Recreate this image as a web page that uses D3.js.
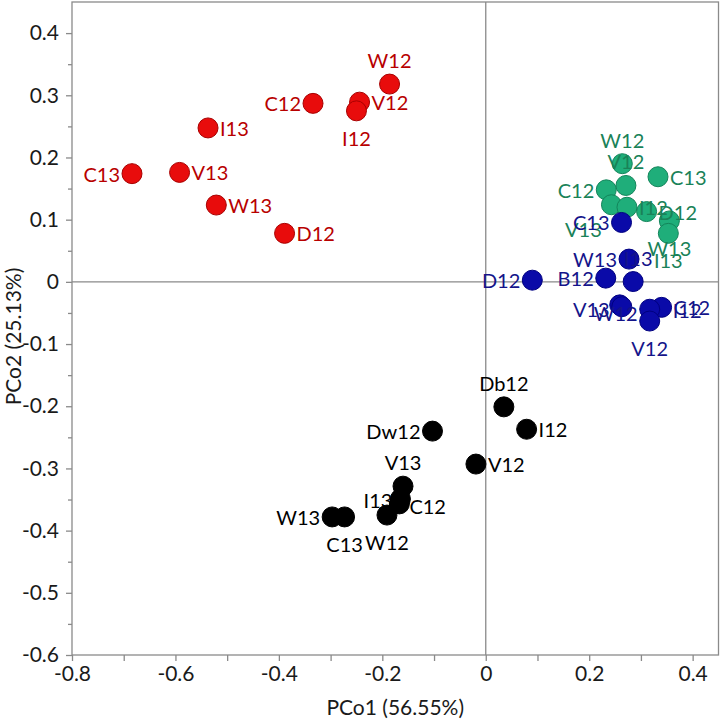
<!DOCTYPE html>
<html><head><meta charset="utf-8">
<script src="https://cdn.jsdelivr.net/npm/d3@7"></script>
<style>body{margin:0;background:#fff}svg{display:block}</style>
</head><body>
<svg id="chart" width="721" height="725"></svg>
<script>
// ---- data ----
const redNames  = ["W12","C12","V12","I12","I13","C13","V13","W13","D12"];
const redX      = [-0.186,-0.334,-0.244,-0.250,-0.537,-0.684,-0.592,-0.521,-0.389];
const redY      = [0.318,0.287,0.289,0.275,0.2475,0.174,0.176,0.1235,0.078];

const greenNames = ["W12","V12","C13","C12","V13","I12","D12","W13","I13"];
const greenX     = [0.264,0.271,0.333,0.233,0.243,0.273,0.311,0.355,0.353];
const greenY     = [0.190,0.155,0.169,0.148,0.124,0.120,0.113,0.098,0.078];

const blueNames = ["C13","W13","I13","D12","B12","V13","W12","C12","I12","V12"];
const blueX     = [0.2625,0.277,0.285,0.090,0.232,0.259,0.263,0.340,0.317,0.317];
const blueY     = [0.0955,0.0366,0.0005,0.0027,0.006,-0.037,-0.040,-0.041,-0.044,-0.063];

const blackNames = ["Db12","I12","Dw12","V12","V13","I13","C12","W12","W13","C13"];
const blackX     = [0.035,0.079,-0.103,-0.019,-0.160,-0.165,-0.167,-0.191,-0.297,-0.273];
const blackY     = [-0.201,-0.237,-0.240,-0.293,-0.3285,-0.349,-0.357,-0.375,-0.378,-0.378];

const xTickValues = [-0.8,-0.6,-0.4,-0.2,0,0.2,0.4];
const yTickValues = [0.4,0.3,0.2,0.1,0,-0.1,-0.2,-0.3,-0.4,-0.5,-0.6];
const xTitle = "PCo1 (56.55%)";
const yTitle = "PCo2 (25.13%)";

// ---- layout (label placement, not data) ----
const redPlace   = ["above","left","right","below","right","left","right","right","right"];
const greenPlace = ["above","above","right","left",{dx:-28,dy:24,a:"middle"},"right","right","below","below"];
const bluePlace  = ["left","left",{dx:5,dy:-24,a:"middle"},"left","left",{dx:-10,dy:4,a:"end"},{dx:-6,dy:6,a:"middle"},{dx:12,dy:0,a:"start"},{dx:23,dy:1,a:"start"},"below"];
const blackPlace = ["above","right","left","right","above",{dx:-8,dy:1,a:"end"},{dx:10,dy:2,a:"start"},"below","left","below"];

const groups = [
  {names:redNames,   xs:redX,   ys:redY,   place:redPlace,   fill:"#e80c0c", stroke:"#a80000", text:"#b80000"},
  {names:greenNames, xs:greenX, ys:greenY, place:greenPlace, fill:"#1fae7a", stroke:"#13845a", text:"#1a8258"},
  {names:blueNames,  xs:blueX,  ys:blueY,  place:bluePlace,  fill:"#0a0aa8", stroke:"#000080", text:"#14148a"},
  {names:blackNames, xs:blackX, ys:blackY, place:blackPlace, fill:"#000000", stroke:"#000000", text:"#000000"}
];

const svg = d3.select("#chart");
const L = 72, R = 718.5, T = 2, B = 655;
const x = d3.scaleLinear().domain([-0.8, 0.45]).range([L, R]);
const y = d3.scaleLinear().domain([-0.6, 0.45]).range([B, T]);
const FONT = "Lato, 'Open Sans', sans-serif";
const axisCol = "#8a8a8a";

// frame
svg.append("rect").attr("x",L).attr("y",T).attr("width",R-L).attr("height",B-T)
  .attr("fill","none").attr("stroke",axisCol).attr("stroke-width",1.3);
// zero lines
svg.append("line").attr("x1",x(0)).attr("x2",x(0)).attr("y1",T).attr("y2",B)
  .attr("stroke",axisCol).attr("stroke-width",1.3);
svg.append("line").attr("x1",L).attr("x2",R).attr("y1",y(0)).attr("y2",y(0))
  .attr("stroke",axisCol).attr("stroke-width",1.3);

// x axis
const xMinor = d3.range(-8, 5).map(d => d/10);
const xAx = svg.append("g").attr("transform",`translate(0,${B})`)
  .call(d3.axisBottom(x).tickValues(xMinor).tickSize(6)
    .tickFormat(d => xTickValues.some(v => Math.abs(v-d)<1e-9) ? String(+d.toFixed(1)) : ""));
xAx.select(".domain").remove();
xAx.selectAll(".tick line").attr("stroke",axisCol).attr("stroke-width",1.3);
xAx.selectAll(".tick text").attr("font-family",FONT).attr("font-size",21).attr("fill","#1a1a1a").attr("dy","0.8em");

// y axis
const yAll = d3.range(-12, 9).map(d => d/20);
const isMajor = d => yTickValues.some(v => Math.abs(v-d)<1e-9);
const yAx = svg.append("g").attr("transform",`translate(${L},0)`)
  .call(d3.axisLeft(y).tickValues(yAll).tickSize(6)
    .tickFormat(d => isMajor(d) ? String(+d.toFixed(1)) : ""));
yAx.select(".domain").remove();
yAx.selectAll(".tick line").attr("stroke",axisCol).attr("stroke-width",1.3)
  .attr("x2", d => isMajor(d) ? -6 : -4);
yAx.selectAll(".tick text").attr("font-family",FONT).attr("font-size",21).attr("fill","#1a1a1a").attr("x",-13);

// titles
svg.append("text").attr("x",(L+R)/2).attr("y",715).attr("text-anchor","middle")
  .attr("font-family",FONT).attr("font-size",21).attr("fill","#1a1a1a").text(xTitle);
svg.append("text").attr("transform",`translate(21,${(T+B)/2 + 8}) rotate(-90)`).attr("text-anchor","middle")
  .attr("font-family",FONT).attr("font-size",21).attr("fill","#1a1a1a").text(yTitle);

// points
const pts = [];
groups.forEach(g => g.names.forEach((n,i) => pts.push({name:n, x:g.xs[i], y:g.ys[i], place:g.place[i], g})));

svg.append("g").selectAll("circle").data(pts).join("circle")
  .attr("cx", d => x(d.x)).attr("cy", d => y(d.y)).attr("r", 10)
  .attr("fill", d => d.g.fill).attr("stroke", d => d.g.stroke).attr("stroke-width", 1);

function lab(p){
  if (typeof p === "object") return p;
  if (p === "left") return {dx:-12, dy:0, a:"end"};
  if (p === "right") return {dx:12, dy:0, a:"start"};
  if (p === "above") return {dx:0, dy:-24, a:"middle"};
  return {dx:0, dy:27, a:"middle"};
}
svg.append("g").selectAll("text").data(pts).join("text")
  .attr("x", d => x(d.x) + lab(d.place).dx)
  .attr("y", d => y(d.y) + lab(d.place).dy)
  .attr("text-anchor", d => lab(d.place).a)
  .attr("dominant-baseline","central")
  .attr("font-family",FONT).attr("font-size",20)
  .attr("fill", d => d.g.text).text(d => d.name);
</script>
</body></html>
